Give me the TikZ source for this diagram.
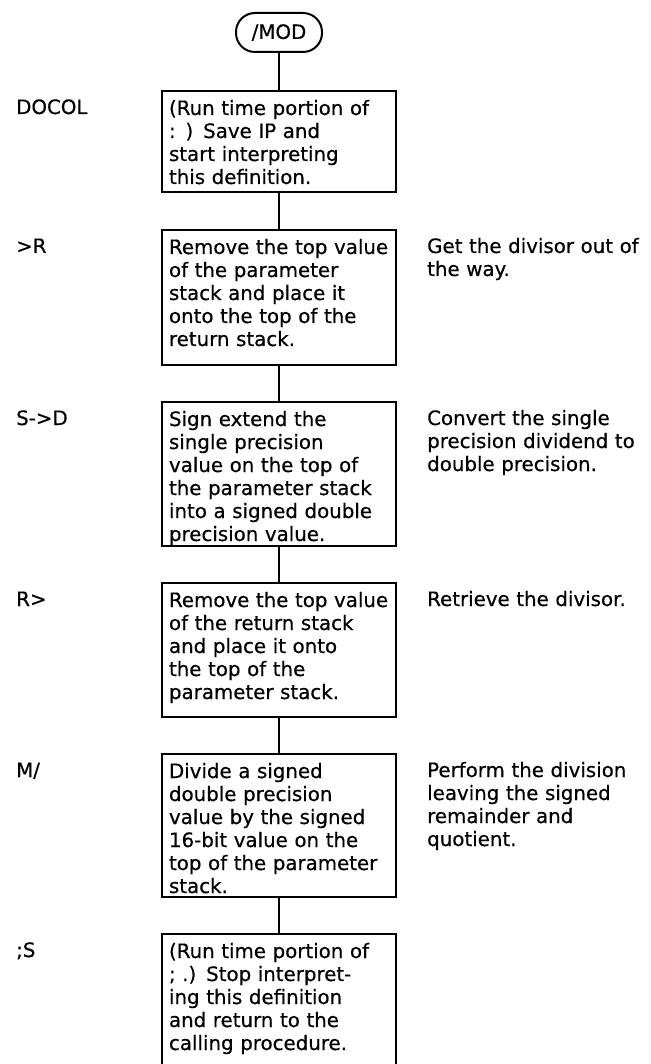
\documentclass[tikz,border=0pt]{standalone}
\usepackage{fontspec}
\setmainfont{DejaVu Sans}[FakeBold=0.5]
\usepackage{tikz}

\begin{document}
\begin{tikzpicture}[x=1pt,y=-1pt,
		every node/.style={font=\fontsize{19.8}{23}\selectfont},
		stepbox/.style={draw,line width=2pt,anchor=north,text width=220pt,inner xsep=7pt,inner ysep=0pt,align=left,text height=24pt},
		note/.style={anchor=base west,text width=223pt,align=left,inner sep=0pt},
		word/.style={anchor=base west,inner sep=0pt}]
			\useasboundingbox (0,0) rectangle (650,1064);
			
			\node[draw,line width=2pt,rounded corners=19pt,minimum width=86pt,minimum height=39pt,inner sep=0pt] (mod) at (279,32.5) {/MOD};
			
			\node[stepbox,text depth=77pt] (docol) at (279,90) {(Run time portion of\\: ) Save IP and\\start interpreting\\this definition.};
			\node[stepbox,text depth=111pt] (tor) at (279,229) {Remove the top value\\of the parameter\\stack and place it\\onto the top of the\\return stack.};
			\node[stepbox,text depth=120pt] (stod) at (279,401) {Sign extend the\\single precision\\value on the top of\\the parameter stack\\into a signed double\\precision value.};
			\node[stepbox,text depth=110pt] (rfrom) at (279,582) {Remove the top value\\of the return stack\\and place it onto\\the top of the\\parameter stack.};
			\node[stepbox,text depth=119pt] (mslash) at (279,753) {Divide a signed\\double precision\\value by the signed\\16-bit value on the\\top of the parameter\\stack.};
			\node[stepbox,text depth=180pt] (semis) at (279,933) {(Run time portion of\\; .) Stop interpret-\\ing this definition\\and return to the\\calling procedure.};
			
			\draw[line width=2pt] (mod.south)--(docol.north);
			\draw[line width=2pt] (docol.south)--(tor.north);
			\draw[line width=2pt] (tor.south)--(stod.north);
			\draw[line width=2pt] (stod.south)--(rfrom.north);
			\draw[line width=2pt] (rfrom.south)--(mslash.north);
			\draw[line width=2pt] (mslash.south)--(semis.north);
			
			% word names
			\node[word] (wdocol) at (16,114) {DOCOL};
			\node[word] (wtor) at (16,253) {>R};
			\node[word] (wstod) at (16,425) {S->D};
			\node[word] (wrfrom) at (16,606) {R>};
			\node[word] (wmslash) at (16,777) {M/};
			\node[word] (wsemis) at (16,957) {;S};
			
			% comments
			\node[note] (ctor) at (427,253) {Get the divisor out of\\the way.};
			\node[note] (cstod) at (427,425) {Convert the single\\precision dividend to\\double precision.};
			\node[note] (crfrom) at (427,606) {Retrieve the divisor.};
			\node[note] (cmslash) at (427,777) {Perform the division\\leaving the signed\\remainder and\\quotient.};
		\end{tikzpicture}
\end{document}
